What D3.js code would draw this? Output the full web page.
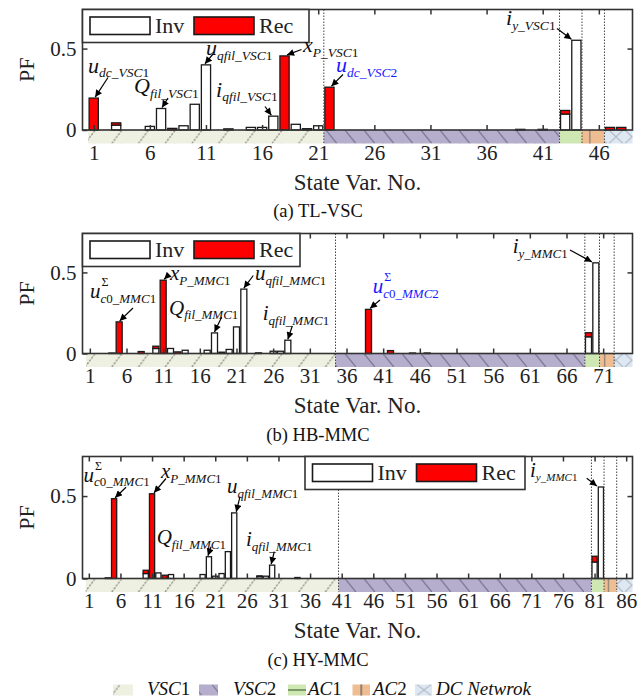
<!DOCTYPE html>
<html><head><meta charset="utf-8">
<script src="https://cdn.jsdelivr.net/npm/d3@7"></script>
<style>body{margin:0;background:#fff}svg{display:block}</style>
</head><body>
<svg id="c" width="641" height="700"></svg>
<script>
// ---------------- DATA ----------------
const tlIdx = [1,3,6,7,8,9,10,11,13,15,16,17,18,19,20,21,22,39,41,43,44,47,48];
const tlInv = [0,.03,.022,.132,0,.026,.158,.40,0,.016,.016,.085,0,.035,0,.026,0,.004,.004,.098,.551,0,0];
const tlRec = [.196,.014,0,0,.01,0,0,0,.007,0,0,0,.455,0,.008,0,.263,0,0,.022,0,.016,.016];
const tlGroups = [21,21,2,2,2];
const tlTicks = [1,6,11,16,21,26,31,36,41,46];

const hbIdx = [4,5,8,10,11,12,13,14,17,18,19,20,21,22,24,26,27,28,39,42,45,47,69,70];
const hbInv = [.003,0,0,.031,0,.031,0,.02,.02,.127,.008,.025,.164,.397,.004,.014,.014,.082,0,0,.003,.003,.103,.559];
const hbRec = [0,.195,.012,.014,.452,0,.01,0,0,0,0,0,0,0,0,0,0,0,.272,.018,0,0,.025,0];
const hbGroups = [34,34,2,2,2];
const hbTicks = [1,6,11,16,21,26,31,36,41,46,51,56,61,66,71];

const hyIdx = [4,5,10,11,12,13,14,19,20,21,22,23,24,28,29,30,34,81,82];
const hyInv = [.004,0,.03,0,.034,0,.024,.024,.132,.014,.03,.163,.398,.012,.014,.081,0,.10,.555];
const hyRec = [0,.484,.02,.514,0,.02,0,0,0,0,0,0,0,.004,0,0,.006,.035,0];
const hyGroups = [40,40,2,2,2];
const hyTicks = [1,6,11,16,21,26,31,36,41,46,51,56,61,66,71,76,81,86];

const seriesNames = ['Inv','Rec'];
const groupNames = ['VSC1','VSC2','AC1','AC2','DC Netwrok'];
const yTickVals = [0, 0.5];

// ---------------- LAYOUT ----------------
const SERIF = "'Liberation Serif','Times New Roman',serif";
const X0 = 82.5, X1 = 632.5, STRIP = 13.5, YMAX = 0.74;
const BLUE = '#1a1aff', RED = '#ff0000', DARK = '#333';

const svg = d3.select('#c');
const defs = svg.append('defs');
defs.append('marker').attr('id','arr').attr('viewBox','0 0 10 10')
  .attr('refX',10).attr('refY',5).attr('markerWidth',8).attr('markerHeight',7)
  .attr('markerUnits','userSpaceOnUse').attr('orient','auto')
  .append('path').attr('d','M0,0 L10,5 L0,10 z').attr('fill','#000');

function makePatterns(key, y0, h) {
  const mk = (name, w, bg) => {
    const p = defs.append('pattern').attr('id', name + key).attr('patternUnits','userSpaceOnUse')
      .attr('width', w).attr('height', h).attr('patternTransform', `translate(0,${y0})`);
    p.append('rect').attr('width', w).attr('height', h).attr('fill', bg);
    return p;
  };
  mk('vsc1', 26.7, '#eef0e1').append('line').attr('x1',5).attr('y1',h).attr('x2',5+h*0.75).attr('y2',0)
    .attr('stroke','#8e8e84').attr('stroke-width',1.3).attr('stroke-dasharray','2.2,1.3');
  mk('vsc2', 19, '#b6aecd').append('line').attr('x1',3).attr('y1',0).attr('x2',3+h*0.8).attr('y2',h)
    .attr('stroke','#7b7690').attr('stroke-width',1.2);
  mk('ac1', 10, '#cfe8b3');
  mk('ac2', 10, '#eebd92');
  const dc = mk('dc', 16, '#dee8f3');
  dc.append('line').attr('x1',1).attr('y1',0).attr('x2',15).attr('y2',h).attr('stroke','#b3bcc6').attr('stroke-width',1.2);
  dc.append('line').attr('x1',15).attr('y1',0).attr('x2',1).attr('y2',h).attr('stroke','#b3bcc6').attr('stroke-width',1.2);
}
const patNames = ['vsc1','vsc2','ac1','ac2','dc'];

const panels = [
  {key:'a', idx:tlIdx, inv:tlInv, rec:tlRec, groups:tlGroups, ticks:tlTicks, caption:'(a) TL-VSC',
   top:9.5, zero:130, leg:{x:82.5, w:226.5}, main:22, sub:13.5,
   annots:[
     {m:'u', s:'dc_VSC1', tx:88, ty:72.5, ax:108, ay:77.5, i:1, dx:1.5},
     {m:'Q', s:'fil_VSC1', tx:134, ty:93, ax:168, ay:98, i:7, dx:1},
     {m:'u', s:'qfil_VSC1', tx:206, ty:55, ax:213, ay:54, i:11, dx:-1},
     {m:'i', s:'qfil_VSC1', tx:216, ty:96.5, ax:265, ay:106.5, i:17, dx:-2},
     {m:'x', s:'P_VSC1', tx:303, ty:52, ax:301.5, ay:49.5, i:18, dx:2.5},
     {m:'u', s:'dc_VSC2', tx:336, ty:72, ax:343, ay:74.5, i:22, dx:2, c:BLUE},
     {m:'i', s:'y_VSC1', tx:506, ty:25, ax:557, ay:28.5, i:44, dx:-5}
   ]},
  {key:'b', idx:hbIdx, inv:hbInv, rec:hbRec, groups:hbGroups, ticks:hbTicks, caption:'(b) HB-MMC',
   top:233.5, zero:353.5, leg:{x:82.5, w:217.5}, main:21, sub:13,
   annots:[
     {m:'u', sup:'Σ', s:'c0_MMC1', tx:90, ty:298, ax:133, ay:308, i:5, dx:0.5},
     {m:'x', s:'P_MMC1', tx:170, ty:280, ax:168, ay:275.5, i:11, dx:1},
     {m:'Q', s:'fil_MMC1', tx:169, ty:314.5, ax:221.7, ay:317, i:18, dx:0},
     {m:'u', s:'qfil_MMC1', tx:255, ty:280, ax:253.3, ay:275.5, i:22, dx:0},
     {m:'i', s:'qfil_MMC1', tx:262.7, ty:320, ax:292.3, ay:326, i:28, dx:0},
     {m:'u', sup:'Σ', s:'c0_MMC2', tx:372.7, ty:293, ax:380, ay:300, i:39, dx:1.5, c:BLUE},
     {m:'i', s:'y_MMC1', tx:512.7, ty:253, ax:570, ay:250, i:70, dx:-4}
   ]},
  {key:'c', idx:hyIdx, inv:hyInv, rec:hyRec, groups:hyGroups, ticks:hyTicks, caption:'(c) HY-MMC',
   top:456.5, zero:578.5, leg:{x:305, w:220}, main:21, sub:13,
   annots:[
     {m:'u', sup:'Σ', s:'c0_MMC1', tx:83.5, ty:481.7, ax:126, ay:487.3, i:5, dx:1},
     {m:'x', s:'P_MMC1', tx:161, ty:478, ax:166, ay:478.5, i:11, dx:2},
     {m:'Q', s:'fil_MMC1', tx:156.7, ty:544, ax:211, ay:546.7, i:20, dx:-1},
     {m:'u', s:'qfil_MMC1', tx:227, ty:493, ax:240, ay:496.7, i:24, dx:2},
     {m:'i', s:'qfil_MMC1', tx:246, ty:546, ax:274.3, ay:551.7, i:30, dx:-1},
     {m:'i', s:'y_MMC1', tx:530, ty:476.7, ax:586.7, ay:478.3, i:82, dx:-4, ss:11}
   ]}
];

function subText(t, str, size, dy) {
  const runs = str.match(/\d+|\D+/g);
  runs.forEach((r, k) => {
    const ts = t.append('tspan').attr('font-size', size)
      .attr('font-style', /\d/.test(r) ? 'normal' : 'italic').text(r);
    if (k === 0 && dy) ts.attr('dy', dy);
  });
}

panels.forEach(p => {
  const N = d3.sum(p.groups);
  const x = d3.scaleLinear().domain([0, N + 1]).range([X0, X1]);
  const y = d3.scaleLinear().domain([0, YMAX]).range([p.zero, p.top]);
  const g = svg.append('g');
  makePatterns(p.key, p.zero, STRIP);

  // group strip
  let acc = 0.5; const segs = [];
  p.groups.forEach((n, k) => { segs.push({k, a: acc, b: acc + n}); acc += n; });
  segs[segs.length - 1].b = N + 1;
  g.selectAll('rect.strip').data(segs).join('rect').attr('class','strip')
    .attr('x', d => x(d.a)).attr('y', p.zero).attr('width', d => x(d.b) - x(d.a)).attr('height', STRIP)
    .attr('fill', d => `url(#${patNames[d.k]}${p.key})`);
  const s3 = segs[3];
  g.append('line').attr('x1', x(s3.a + 0.7)).attr('x2', x(s3.a + 0.7)).attr('y1', p.zero).attr('y2', p.zero + STRIP)
    .attr('stroke', '#9a8a7c').attr('stroke-width', 1.5);

  // bars
  const data = p.idx.map((i, k) => ({i, inv: p.inv[k], rec: p.rec[k]}));
  const bw = (x(1) - x(0)) * 0.82;
  g.selectAll('rect.inv').data(data.filter(d => d.inv > 0)).join('rect').attr('class','inv')
    .attr('x', d => x(d.i) - bw / 2).attr('y', d => y(d.inv)).attr('width', bw)
    .attr('height', d => y(0) - y(d.inv)).attr('fill', '#fff').attr('stroke', '#1a1a1a').attr('stroke-width', 1.3);
  g.selectAll('rect.rec').data(data.filter(d => d.rec > 0)).join('rect').attr('class','rec')
    .attr('x', d => x(d.i) - bw / 2).attr('y', d => y(d.inv + d.rec)).attr('width', bw)
    .attr('height', d => y(d.inv) - y(d.inv + d.rec)).attr('fill', RED).attr('stroke', '#1a1a1a').attr('stroke-width', 1.3);

  // dotted group separators
  g.selectAll('line.sep').data(segs.slice(1)).join('line').attr('class','sep')
    .attr('x1', d => x(d.a)).attr('x2', d => x(d.a)).attr('y1', p.top).attr('y2', p.zero + STRIP)
    .attr('stroke', '#444').attr('stroke-width', 1).attr('stroke-dasharray', '1.5,1.5');

  // frame
  g.append('rect').attr('x', X0).attr('y', p.top).attr('width', X1 - X0).attr('height', p.zero - p.top)
    .attr('fill', 'none').attr('stroke', DARK).attr('stroke-width', 1.6);

  // axes
  const style = sel => {
    sel.select('.domain').remove();
    sel.selectAll('line').attr('stroke', DARK).attr('stroke-width', 1.5);
    sel.selectAll('text').attr('font-family', SERIF).attr('font-size', 21).attr('fill', '#222');
  };
  g.append('g').attr('transform', `translate(0,${p.zero})`)
    .call(d3.axisBottom(x).tickValues(p.ticks).tickSize(-5).tickPadding(15).tickFormat(d3.format('d'))).call(style);
  g.append('g').attr('transform', `translate(0,${p.top})`)
    .call(d3.axisTop(x).tickValues(p.ticks).tickSize(-5).tickFormat('')).call(style);
  g.append('g').attr('transform', `translate(${X0},0)`)
    .call(d3.axisLeft(y).tickValues(yTickVals).tickSize(-5).tickPadding(6).tickFormat(d => d === 0 ? '0' : '0.5')).call(style);
  g.append('g').attr('transform', `translate(${X1},0)`)
    .call(d3.axisRight(y).tickValues([0.5]).tickSize(-5).tickFormat('')).call(style);

  // y label
  g.append('text').attr('transform', `translate(34,${(p.top + p.zero) / 2}) rotate(-90)`)
    .attr('text-anchor', 'middle').attr('font-family', SERIF).attr('font-size', 22).attr('fill', '#222').text('PF');
  // x label
  g.append('text').attr('x', (X0 + X1) / 2).attr('y', p.zero + 59.5).attr('text-anchor', 'middle')
    .attr('font-family', SERIF).attr('font-size', 23).attr('fill', '#222').text('State Var. No.');
  // caption
  g.append('text').attr('x', 318).attr('y', p.zero + 87).attr('text-anchor', 'middle')
    .attr('font-family', SERIF).attr('font-size', 18.5).attr('fill', '#111').text(p.caption);

  // legend box
  const L = p.leg, ly = p.top;
  g.append('rect').attr('x', L.x).attr('y', ly).attr('width', L.w).attr('height', 33)
    .attr('fill', '#fff').attr('stroke', DARK).attr('stroke-width', 1.6);
  seriesNames.forEach((nm, k) => {
    const sx = L.x + 7.5 + k * 104;
    g.append('rect').attr('x', sx).attr('y', ly + 7.5).attr('width', 60).attr('height', 17.5)
      .attr('fill', k ? RED : '#fff').attr('stroke', '#1a1a1a').attr('stroke-width', 1.6);
    g.append('text').attr('x', sx + 65).attr('y', ly + 23.5).attr('font-family', SERIF)
      .attr('font-size', 22).attr('fill', '#222').text(nm);
  });

  // annotations
  p.annots.forEach(a => {
    const col = a.c || '#111';
    const t = g.append('text').attr('x', a.tx).attr('y', a.ty).attr('fill', col).attr('font-family', SERIF);
    t.append('tspan').attr('font-style', 'italic').attr('font-size', p.main).text(a.m);
    const w = t.node().getComputedTextLength();
    subText(t, a.s, a.ss || p.sub, 4.5);
    if (a.sup) {
      g.append('text').attr('x', a.tx + w + 1).attr('y', a.ty - 12).attr('fill', col)
        .attr('font-family', SERIF).attr('font-size', 12).text(a.sup);
    }
    const k = p.idx.indexOf(a.i);
    const tot = p.inv[k] + p.rec[k];
    g.append('line').attr('x1', a.ax).attr('y1', a.ay).attr('x2', x(a.i) + a.dx).attr('y2', y(tot) - 1)
      .attr('stroke', '#000').attr('stroke-width', 1.2).attr('marker-end', 'url(#arr)');
  });
});

// bottom legend
makePatterns('L', 684.5, 11);
const legItems = [
  {sx:113, sw:20, tx:147},
  {sx:199, sw:19, tx:233},
  {sx:288, sw:18, tx:308},
  {sx:352.5, sw:17.5, tx:373},
  {sx:415, sw:17, tx:436}
];
const lg = svg.append('g');
groupNames.forEach((nm, k) => {
  const it = legItems[k];
  lg.append('rect').attr('x', it.sx).attr('y', 684.5).attr('width', it.sw).attr('height', 11)
    .attr('fill', `url(#${patNames[k]}L)`);
  if (k === 2) lg.append('line').attr('x1', it.sx).attr('x2', it.sx + it.sw).attr('y1', 690).attr('y2', 690)
    .attr('stroke', '#7d9a68').attr('stroke-width', 2);
  if (k === 3) lg.append('line').attr('x1', it.sx + it.sw / 2).attr('x2', it.sx + it.sw / 2).attr('y1', 684.5).attr('y2', 695.5)
    .attr('stroke', '#8f8276').attr('stroke-width', 2);
  const t = lg.append('text').attr('x', it.tx).attr('y', 695).attr('font-family', SERIF)
    .attr('font-size', 19).attr('fill', '#111');
  nm.match(/\d+|\D+/g).forEach(r => t.append('tspan')
    .attr('font-style', /\d/.test(r) ? 'normal' : 'italic').text(r));
});
</script></body></html>
